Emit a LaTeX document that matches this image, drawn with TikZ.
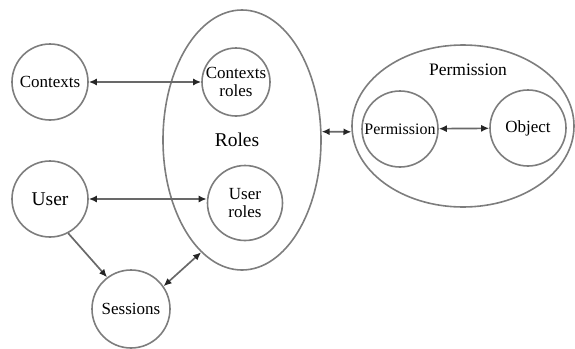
\documentclass[tikz,border=0pt]{standalone}
\usepackage{fontspec}
\setmainfont{Liberation Serif}
\usetikzlibrary{shapes.geometric,arrows.meta}
\definecolor{edgegray}{RGB}{125,125,125}
\definecolor{arrgray}{RGB}{105,105,105}
\begin{document}
\begin{tikzpicture}[x=1pt,y=-1pt,
  ent/.style={circle,draw=edgegray,line width=1.6pt,inner sep=0pt,minimum size=#1,align=center,font=\fontsize{17}{18}\selectfont},
  grp/.style={ellipse,draw=edgegray,line width=1.6pt,inner sep=0pt},
  lbl/.style={inner sep=0pt,font=\fontsize{17.5}{19}\selectfont},
  tip/.style={Latex[length=8pt,width=7pt,color=black!85]},
  link/.style={draw=arrgray,line width=1.7pt,{Latex[length=8pt,width=7pt,color=black!85]}-{Latex[length=8pt,width=7pt,color=black!85]}},
  onelink/.style={draw=arrgray,line width=1.7pt,-{Latex[length=8pt,width=7pt,color=black!85]}}]
\useasboundingbox (0,0) rectangle (575,348);
% groups
\node[grp,minimum width=158pt,minimum height=260pt] (roles) at (242,140) {};
\node[lbl,font=\fontsize{19.5}{21}\selectfont] (roleslbl) at (237,140) {Roles};
\node[grp,minimum width=222pt,minimum height=162pt] (perm) at (463,126) {};
\node[lbl] (permlbl) at (468,70) {Permission};
% entities
\node[ent=76pt] (ctx) at (50,82) {Contexts};
\node[ent=76pt,font=\fontsize{19.5}{21}\selectfont] (user) at (50,199) {User};
\node[ent=78pt] (sess) at (131,309) {Sessions};
\node[ent=68pt] (ctxr) at (236,82) {Contexts\\roles};
\node[ent=75pt] (userr) at (245,203) {User\\roles};
\node[ent=76pt,font=\fontsize{16}{17}\selectfont] (pin) at (400,129) {Permission};
\node[ent=76pt] (obj) at (528,128) {Object};
% connectors
\draw[link] (ctx) -- (ctxr);
\draw[link] (user.east) -- (user.east -| userr.west);
\draw[onelink] (user.-62) -- (sess.127);
\draw[link] (sess.35) -- (roles.250);
\draw[link] (roles.6) -- (perm.183);
\draw[link] (pin) -- (obj);
\end{tikzpicture}
\end{document}
